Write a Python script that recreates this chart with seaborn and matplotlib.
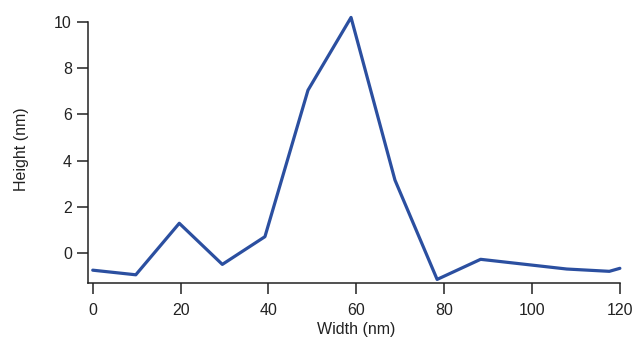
import pandas as pd
import matplotlib.pyplot as plt
import seaborn as sns

# profile
width_nm = [0, 9.8, 19.7, 29.5, 39.2, 49.0, 58.8, 68.8, 78.4, 88.3, 98.1, 107.9, 117.6, 120]
height_nm = [-0.74, -0.94, 1.29, -0.49, 0.71, 7.05, 10.2, 3.16, -1.14, -0.27, -0.48, -0.69, -0.79, -0.66]

sns.set_style("ticks")
plt.rcParams['font.family'] = ['Liberation Sans', 'DejaVu Sans']

df = pd.DataFrame({'Width': width_nm, 'Height': height_nm})

fig = plt.figure(figsize=(6.37, 3.44), dpi=100)
ax = fig.add_axes([0.138, 0.177, 0.842, 0.779])

sns.lineplot(data=df, x='Width', y='Height', color='#2b4fa0', linewidth=2.3,
             sort=False, ax=ax, clip_on=False)

ax.set_xlim(-1.1, 121)
ax.set_ylim(-1.3, 10.3)
ax.set_xticks([0, 20, 40, 60, 80, 100, 120])
ax.set_yticks([0, 2, 4, 6, 8, 10])
ax.spines['left'].set_bounds(-1.3, 10)
ax.spines['bottom'].set_bounds(-1.1, 120)
for side in ['top', 'right']:
    ax.spines[side].set_visible(False)
for side in ['left', 'bottom']:
    ax.spines[side].set_color('#222222')
    ax.spines[side].set_linewidth(1.1)

ax.tick_params(axis='both', direction='out', length=8, width=1.1,
               color='#222222', labelsize=11.5, labelcolor='#222222')
ax.tick_params(axis='x', pad=6)
ax.tick_params(axis='y', pad=3.5)
ax.set_xlabel('Width (nm)', fontsize=11.5, color='#222222', labelpad=3)
ax.set_ylabel('Height (nm)', fontsize=11.5, color='#222222', labelpad=18)

plt.savefig('out.png', dpi=100)
plt.close()
